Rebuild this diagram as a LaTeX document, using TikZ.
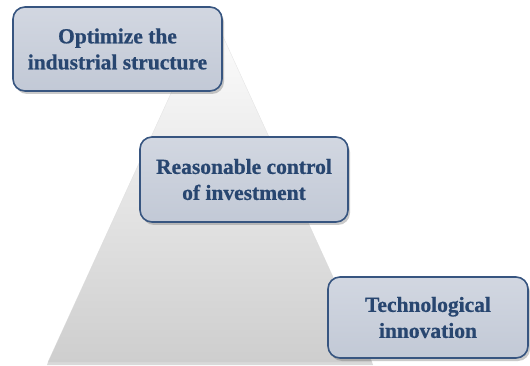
\documentclass[tikz,border=0pt]{standalone}
\usepackage{fontspec}
\setmainfont{Liberation Serif}[BoldFeatures={FakeBold=0.8}]
\usetikzlibrary{shadows,calc}
\definecolor{boxtext}{RGB}{40,70,112}
\definecolor{boxborder}{RGB}{55,85,128}
\definecolor{boxtop}{RGB}{210,215,225}
\definecolor{boxbot}{RGB}{194,201,214}
\definecolor{pyrbot}{RGB}{206,206,206}
\tikzset{
  levelbox/.style={draw=boxborder, line width=1.6pt, rounded corners=12pt,
    top color=boxtop, bottom color=boxbot, text=boxtext, align=center,
    font=\bfseries\fontsize{21.5}{26}\selectfont,
    drop shadow={shadow xshift=2pt, shadow yshift=-3pt, opacity=0.35, fill=black!60},
    inner sep=0pt},
}
\begin{document}
\begin{tikzpicture}[x=1pt,y=-1pt]
\useasboundingbox (0,0) rectangle (530,366);
% pyramid
\fill[black!25, opacity=0.6] (48,362) -- (372,362) -- (373,365) -- (47,365) -- cycle;
\shade[top color=white, bottom color=pyrbot, shading angle=0]
  (210,8) -- (372,362) -- (48,362) -- cycle;
\draw[white!85!black, line width=0.4pt, opacity=0.6] (210,8) -- (372,362);
\draw[white!85!black, line width=0.4pt, opacity=0.6] (210,8) -- (48,362);
% boxes
\node[levelbox, minimum width=209pt, minimum height=84pt] (top) at (117.5,49) {Optimize the\\industrial structure};
\node[levelbox, minimum width=208pt, minimum height=85pt] (mid) at (244,179.5) {Reasonable control\\of investment};
\node[levelbox, minimum width=200pt, minimum height=81pt] (bot) at (428,317.5) {Technological\\innovation};
\end{tikzpicture}
\end{document}
